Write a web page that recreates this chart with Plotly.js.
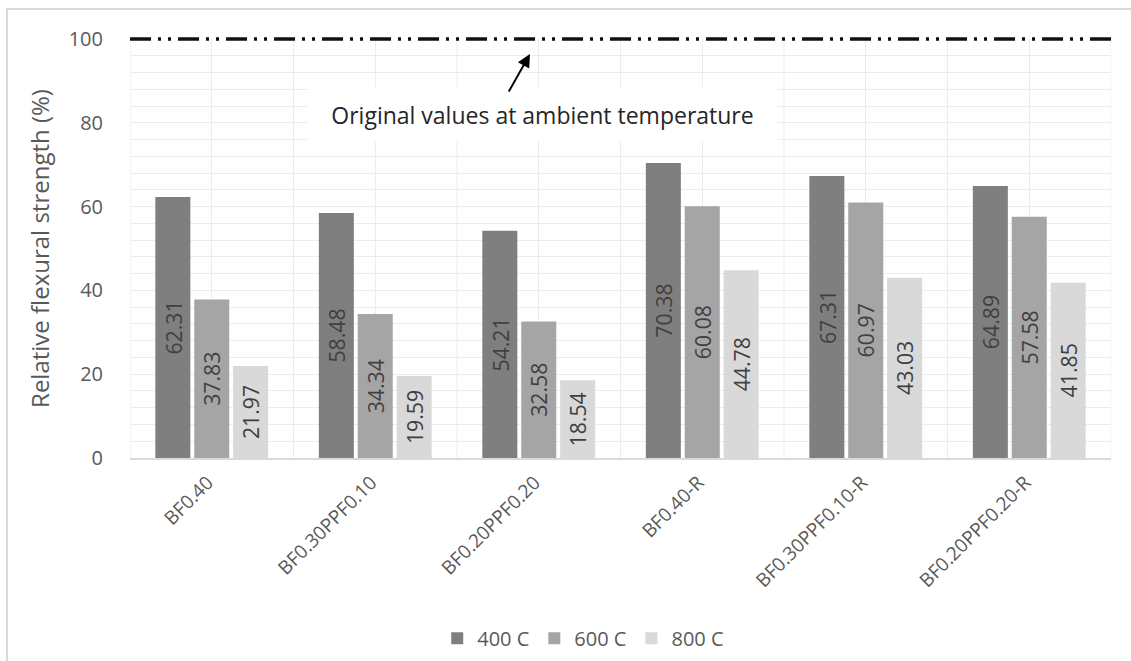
<!DOCTYPE html>
<html>
<head>
<meta charset="utf-8">
<script src="https://cdn.plot.ly/plotly-3.0.1.min.js"></script>
<style>
  html, body { margin: 0; padding: 0; background: #ffffff; }
  #chart { width: 1131px; height: 661px; }
</style>
</head>
<body>
<div id="chart"></div>
<script>
const categories = ["BF0.40", "BF0.30PPF0.10", "BF0.20PPF0.20", "BF0.40-R", "BF0.30PPF0.10-R", "BF0.20PPF0.20-R"];
const seriesNames = ["400 C", "600 C", "800 C"];
const values400 = [62.31, 58.48, 54.21, 70.38, 67.31, 64.89];
const values600 = [37.83, 34.34, 32.58, 60.08, 60.97, 57.58];
const values800 = [21.97, 19.59, 18.54, 44.78, 43.03, 41.85];
const referenceValue = 100;
const referenceLabel = "Original values at ambient temperature";
const yTicks = [0, 20, 40, 60, 80, 100];

const colors = ["#7f7f7f", "#a5a5a5", "#d9d9d9"];
const FONT = "Open Sans, Noto Sans, sans-serif";

const seriesValues = [values400, values600, values800];
const traces = seriesValues.map((vals, i) => ({
  type: "bar",
  name: seriesNames[i],
  x: categories,
  y: vals,
  text: vals.map(v => v.toFixed(2)),
  textposition: "inside",
  insidetextanchor: "middle",
  textangle: -90,
  textfont: { family: FONT, size: 22, color: "#404040" },
  marker: { color: colors[i], line: { width: 0 } },
  hoverinfo: "x+y+name"
}));

const yRange = [0, referenceValue];

// vertical gridlines at category boundaries
const shapes = [];
for (let k = 0; k <= categories.length; k++) {
  shapes.push({
    type: "line", xref: "x", yref: "y",
    x0: k - 0.5, x1: k - 0.5, y0: 0, y1: referenceValue,
    line: { color: "#ececec", width: 1 }, layer: "below"
  });
}
// reference line at 100 (top of the value range; paper refs avoid clipping)
shapes.push({
  type: "line", xref: "paper", yref: "paper",
  x0: 0, x1: 1,
  y0: (referenceValue - yRange[0]) / (yRange[1] - yRange[0]),
  y1: (referenceValue - yRange[0]) / (yRange[1] - yRange[0]),
  line: { color: "#111111", width: 3.5, dash: "21px,7px,3px,7px,3px,7px" },
  layer: "above"
});
// outer chart frame
shapes.push({
  type: "rect", xref: "paper", yref: "paper",
  x0: -0.1254, x1: 1.3, y0: -0.8, y1: 1.0716,
  line: { color: "#d9d9d9", width: 2 }, fillcolor: "rgba(0,0,0,0)", layer: "below"
});

const layout = {
  width: 1131,
  height: 661,
  margin: { l: 130, r: 20, t: 39, b: 203, autoexpand: false },
  paper_bgcolor: "#ffffff",
  plot_bgcolor: "#ffffff",
  barmode: "group",
  bargap: 0.286,
  bargroupgap: 0.1,
  font: { family: FONT, color: "#595959" },
  showlegend: true,
  legend: {
    orientation: "h",
    x: 0.462, xanchor: "center",
    y: -0.43, yanchor: "middle",
    font: { family: FONT, size: 20, color: "#595959" },
    itemwidth: 30,
    traceorder: "normal"
  },
  xaxis: {
    type: "category",
    range: [-0.5, categories.length - 0.5],
    showgrid: true,
    gridcolor: "#ececec",
    showline: true,
    linecolor: "#d9d9d9",
    linewidth: 2,
    ticks: "outside",
    ticklen: 4,
    tickcolor: "rgba(0,0,0,0)",
    tickangle: -45,
    ticklabelshift: -4,
    tickfont: { family: FONT, size: 19, color: "#595959" },
    zeroline: false,
    automargin: false
  },
  yaxis: {
    range: yRange,
    tickvals: yTicks,
    showgrid: true,
    gridcolor: "#ececec",
    minor: { dtick: 4, showgrid: true, gridcolor: "#ececec", ticks: "" },
    zeroline: false,
    showline: false,
    ticks: "outside",
    ticklen: 22,
    tickcolor: "rgba(0,0,0,0)",
    tickfont: { family: FONT, size: 20, color: "#595959" },
    title: { text: "Relative flexural strength (%)", font: { family: FONT, size: 24, color: "#595959" }, standoff: 12 },
    automargin: false
  },
  shapes: shapes,
  annotations: [
    {
      xref: "paper", yref: "y",
      x: 0.4205, y: 82,
      text: referenceLabel,
      showarrow: false,
      font: { family: FONT, size: 23, color: "#262626" },
      bgcolor: "#ffffff",
      width: 465, height: 49,
      borderpad: 2,
      xanchor: "center", yanchor: "middle"
    },
    {
      xref: "paper", yref: "y",
      x: 0.4077, y: 96.4,
      text: "",
      showarrow: true,
      arrowhead: 2,
      arrowsize: 1.3,
      arrowwidth: 2,
      arrowcolor: "#000000",
      ax: -22, ay: 39
    }
  ]
};

Plotly.newPlot("chart", traces, layout, { displayModeBar: false, staticPlot: true });
</script>
</body>
</html>
